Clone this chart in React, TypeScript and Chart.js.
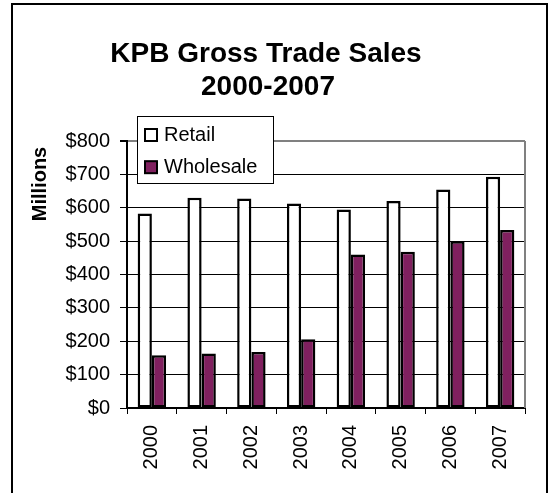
import React, { useEffect, useRef } from "react";
import { Chart, registerables } from "chart.js";

Chart.register(...registerables);

const years = ["2000", "2001", "2002", "2003", "2004", "2005", "2006", "2007"];
const retail = [583, 630, 628, 613, 595, 620, 655, 693];
const wholesale = [158, 163, 168, 206, 460, 468, 500, 533];
const titleLines = ["KPB Gross Trade Sales", "2000-2007"];
const yAxisTitle = "Millions";
const seriesNames = ["Retail", "Wholesale"];
const seriesColors = ["#FFFFFF", "#80205F"];

const FONT = "'Liberation Sans', Arial, sans-serif";

const decorPlugin = {
  id: "decor",
  afterDraw(chart: any) {
    const ctx = chart.ctx;
    const area = chart.chartArea;
    ctx.save();
    // plot area right border
    ctx.strokeStyle = "#808080";
    ctx.lineWidth = 2;
    ctx.beginPath();
    ctx.moveTo(area.right, area.top);
    ctx.lineTo(area.right, area.bottom);
    ctx.stroke();

    // outer frame
    ctx.strokeStyle = "#000";
    ctx.lineWidth = 2;
    ctx.strokeRect(12, 4, 535, 520);

    // title
    ctx.fillStyle = "#000";
    ctx.font = `bold 28px ${FONT}`;
    ctx.textAlign = "center";
    ctx.textBaseline = "alphabetic";
    ctx.fillText(titleLines[0], 266, 62);
    ctx.fillText(titleLines[1], 268, 95);

    // y axis title
    ctx.save();
    ctx.translate(40.5, 184);
    ctx.rotate(-Math.PI / 2);
    ctx.font = `bold 20px ${FONT}`;
    ctx.textAlign = "center";
    ctx.textBaseline = "middle";
    ctx.fillText(yAxisTitle, 0, 0);
    ctx.restore();

    // legend
    ctx.fillStyle = "#fff";
    ctx.fillRect(137.5, 116.5, 136, 67);
    ctx.strokeStyle = "#000";
    ctx.lineWidth = 1;
    ctx.strokeRect(137.5, 116.5, 136, 67);
    const rows = [134.5, 166.7];
    seriesNames.forEach((name, i) => {
      const cy = rows[i];
      ctx.fillStyle = seriesColors[i];
      ctx.fillRect(144, cy - 6, 13, 13);
      ctx.strokeStyle = "#000";
      ctx.lineWidth = 2;
      ctx.strokeRect(145, cy - 5.5, 12, 12);
      ctx.fillStyle = "#000";
      ctx.font = `20px ${FONT}`;
      ctx.textAlign = "left";
      ctx.textBaseline = "middle";
      ctx.fillText(name, 164, cy + 1);
    });
    ctx.restore();
  },
};

export default function App() {
  const ref = useRef<HTMLCanvasElement | null>(null);
  useEffect(() => {
    if (!ref.current) return;
    const chart = new Chart(ref.current, {
      type: "bar",
      data: {
        labels: years,
        datasets: [
          {
            label: seriesNames[0],
            data: retail,
            backgroundColor: seriesColors[0],
            borderColor: "#000",
            borderWidth: 2.5,
            borderSkipped: false,
          },
          {
            label: seriesNames[1],
            data: wholesale,
            backgroundColor: seriesColors[1],
            borderColor: "#000",
            borderWidth: 2.5,
            borderSkipped: false,
          },
        ],
      },
      options: {
        animation: false,
        responsive: false,
        maintainAspectRatio: false,
        datasets: { bar: { categoryPercentage: 0.5714, barPercentage: 1 } },
        layout: { padding: { top: 141, right: 28, left: 0, bottom: 0 } },
        plugins: {
          legend: { display: false },
          title: { display: false },
          tooltip: { enabled: false },
        },
        scales: {
          x: {
            afterFit: (s: any) => {
              s.height = 85;
            },
            grid: {
              display: true,
              drawOnChartArea: false,
              drawTicks: true,
              tickLength: 6,
              color: "#000",
              tickColor: "#000",
              lineWidth: 1,
              offset: true,
            },
            border: { display: true, color: "#000", width: 2 },
            ticks: {
              minRotation: 90,
              maxRotation: 90,
              autoSkip: false,
              padding: 11,
              color: "#000",
              font: { family: FONT, size: 20 },
            },
          },
          y: {
            min: 0,
            max: 800,
            afterFit: (s: any) => {
              s.width = 127;
            },
            grid: {
              color: (c: any) => (c.tick && c.tick.value === 800 ? "#808080" : "#000"),
              lineWidth: (c: any) => (c.tick && c.tick.value === 800 ? 2 : 1),
              tickColor: "#000",
              tickLength: 7,
              drawTicks: true,
            },
            border: { display: true, color: "#000", width: 2 },
            ticks: {
              stepSize: 100,
              padding: 10,
              color: "#000",
              font: { family: FONT, size: 20 },
              callback: (v: any) => "$" + v,
            },
          },
        },
      },
      plugins: [decorPlugin],
    });
    return () => chart.destroy();
  }, []);
  return (
    <div style={{ position: "absolute", left: 0, top: 0, width: 553, height: 493, background: "#fff" }}>
      <canvas ref={ref} width={553} height={493} style={{ width: 553, height: 493, display: "block" }} />
    </div>
  );
}
